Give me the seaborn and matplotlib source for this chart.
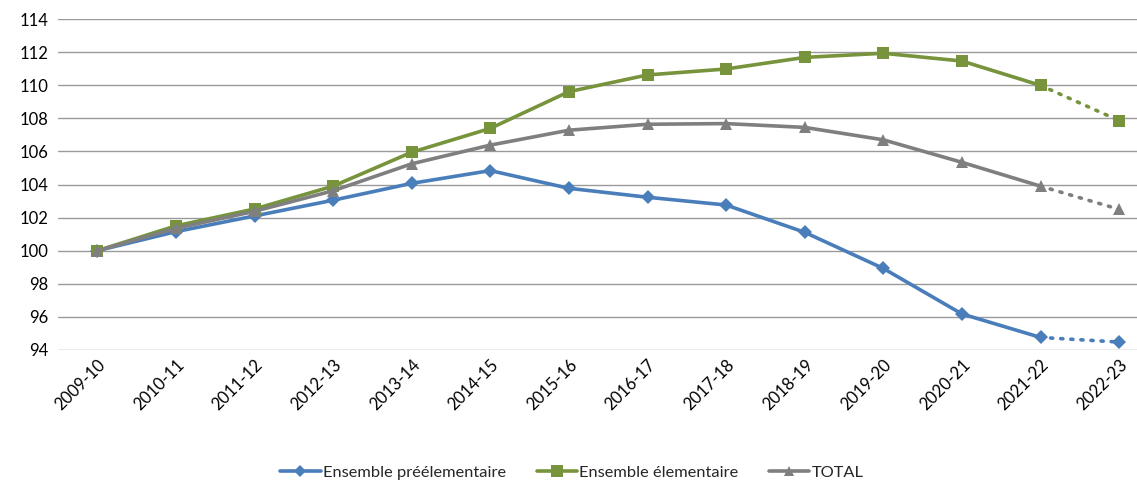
import matplotlib
matplotlib.use("Agg")
import matplotlib.pyplot as plt
import seaborn as sns
import pandas as pd

years = ["2009-10", "2010-11", "2011-12", "2012-13", "2013-14", "2014-15", "2015-16",
         "2016-17", "2017-18", "2018-19", "2019-20", "2020-21", "2021-22", "2022-23"]
preelem = [100.0, 101.15, 102.1, 103.05, 104.07, 104.84, 103.77, 103.23, 102.76,
           101.11, 98.93, 96.18, 94.76, 94.48]
elem = [100.0, 101.5, 102.52, 103.9, 105.95, 107.39, 109.61, 110.62, 110.98,
        111.68, 111.93, 111.46, 109.99, 107.86]
total = [100.0, 101.35, 102.38, 103.62, 105.25, 106.38, 107.28, 107.64, 107.68,
         107.45, 106.7, 105.34, 103.9, 102.5]

names = ["Ensemble préélementaire", "Ensemble élementaire", "TOTAL"]
series = [preelem, elem, total]
colors = ["#4A7EBB", "#77933C", "#7F7F7F"]
markers = ["D", "s", "^"]
msizes = [7, 9, 8.5]

sns.set_style("white")
plt.rcParams["font.family"] = ["Lato", "DejaVu Sans"]

fig = plt.figure(figsize=(11.37, 4.83), dpi=100)
ax = fig.add_axes([58 / 1137, 133 / 483, (1137 - 58) / 1137, 331 / 483])

x = list(range(len(years)))
for name, vals, c, m, ms in zip(names, series, colors, markers, msizes):
    df = pd.DataFrame({"x": x, "y": vals})
    solid = df.iloc[:-1]
    dotted = df.iloc[-2:]
    sns.lineplot(data=solid, x="x", y="y", ax=ax, color=c, linewidth=2.6,
                 marker=m, markersize=ms, markeredgewidth=0, label=name,
                 zorder=3)
    sns.lineplot(data=dotted, x="x", y="y", ax=ax, color=c, linewidth=2.6,
                 linestyle=(0, (0.6, 2.2)), dash_capstyle="round", zorder=2,
                 legend=False)
    ax.plot(dotted["x"].iloc[-1:], dotted["y"].iloc[-1:], marker=m, markersize=ms,
            color=c, markeredgewidth=0, linestyle="none", zorder=3)

ax.set_xlim(-0.5, -0.5 + 1079 / 78.6)
ax.set_ylim(94, 114)
ax.set_yticks(range(94, 115, 2))
ax.set_yticklabels([str(v) for v in range(94, 115, 2)], fontsize=12, color="#000000")
ax.set_xticks(x)
ax.set_xticklabels(years, rotation=45, ha="right", rotation_mode="anchor",
                   fontsize=12, color="#000000")
ax.tick_params(axis="y", length=0, pad=7)
ax.tick_params(axis="x", length=0, pad=5)
ax.grid(axis="y", color="#9A9A9A", linewidth=1.0)
ax.grid(axis="x", visible=False)
for s in ax.spines.values():
    s.set_visible(False)
ax.set_xlabel("")
ax.set_ylabel("")

h, l = ax.get_legend_handles_labels()
ax.get_legend().remove()
fig.legend(h, l, loc="center", bbox_to_anchor=(0.503, 0.022), ncol=3, frameon=False,
           fontsize=11.8, handlelength=2.45, handletextpad=0.12, columnspacing=1.9,
           markerscale=0.9)

fig.savefig("out.png", dpi=100)
